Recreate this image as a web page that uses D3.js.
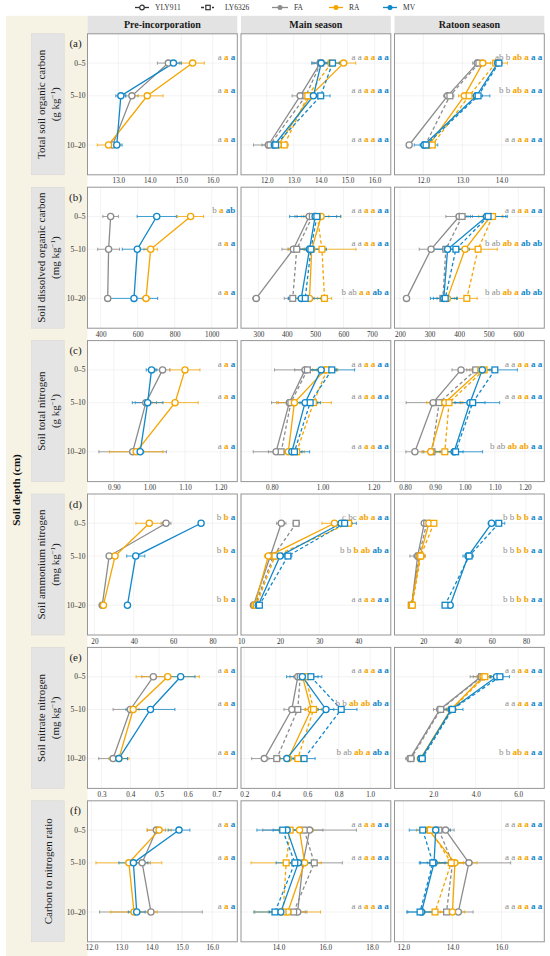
<!DOCTYPE html>
<html><head><meta charset="utf-8">
<script src="https://cdn.jsdelivr.net/npm/d3@7"></script>
<style>body{margin:0;background:#fff}svg{display:block}</style>
</head><body><svg id="c" width="550" height="956"></svg>
<script>
// ---------------- data ----------------
const depthLabels=["0–5","5–10","10–20"];
const depthMid=[2.5,7.5,15];
const colTitles=["Pre-incorporation","Main season","Ratoon season"];
const rowTags=["(a)","(b)","(c)","(d)","(e)","(f)"];
const rowTitles=[["Total soil organic  carbon","(g kg","−1",")"],["Soil dissolved  organic carbon","(mg kg","−1",")"],["Soil total nitrogen","(g kg","−1",")"],["Soil ammonium nitrogen","(mg kg","−1",")"],["Soil nitrate nitrogen","(mg kg","−1",")"],["Carbon to nitrogen ratio"]];
const treatments=["FA","RA","MV"];
const varieties=["YLY911","LY6326"];
const a3=["a","a","a"], a6=["a","a","a","a","a","a"];
// series order: pre = FA, RA, MV (YLY911); main/ratoon = FA-YLY911, FA-LY6326, RA-YLY911, RA-LY6326, MV-YLY911, MV-LY6326
// values per series at depths 0-5, 5-10, 10-20 ; Se = half error bar ; Sig = letters per depth
const socPre=[[14.59,13.43,12.82],[15.36,13.92,12.69],[14.75,13.08,12.95]];
const socPreSe=[[0.35,0.2,0.1],[0.37,0.5,0.36],[0.25,0.16,0.17]];
const socPreSig=[a3,a3,a3];
const socMain=[[13.98,13.24,12.06],[14.0,13.45,12.12],[14.85,13.62,12.43],[14.39,13.52,12.65],[14.02,13.73,12.28],[14.44,14.0,12.33]];
const socMainSe=[[0.3,0.3,0.55],[0.25,0.25,0.3],[0.45,0.3,0.2],[0.3,0.25,0.15],[0.35,0.2,0.15],[0.25,0.35,0.15]];
const socMainSig=[a6,a6,a6];
const socRat=[[13.38,12.62,11.64],[13.42,12.68,12.05],[13.52,13.05,12.15],[13.85,13.17,12.23],[13.9,13.36,12.02],[13.93,13.4,12.07]];
const socRatSe=[[0.12,0.1,0.05],[0.1,0.1,0.1],[0.2,0.15,0.1],[0.3,0.15,0.08],[0.08,0.15,0.1],[0.08,0.3,0.3]];
const socRatSig=[["ab","b","ab","a","a","a"],["b","b","ab","a","a","a"],a6];

const docPre=[[454,443,438],[886,670,645],[703,598,580]];
const docPreSe=[[42,59,15],[70,36,20],[106,81,128]];
const docPreSig=[["b","a","ab"],a3,a3];
const docMain=[[479,423,292],[490,435,421],[521,488,480],[508,524,533],[500,480,451],[506,485,465]];
const docMainSe=[[50,40,12],[30,30,30],[70,30,40],[40,120,25],[90,60,45],[70,50,60]];
const docMainSig=[a6,a6,["b","ab","a","a","ab","a"]];
const docRat=[[400,305,222],[410,355,345],[506,420,360],[513,464,426],[493,361,348],[498,389,353]];
const docRatSe=[[45,40,8],[20,40,20],[40,40,25],[35,65,35],[70,50,45],[60,45,40]];
const docRatSig=[a6,["b","ab","ab","a","ab","ab"],["b","ab","ab","a","ab","ab"]];

const tnPre=[[1.037,0.99,0.953],[1.10,1.072,0.963],[1.006,0.995,0.974]];
const tnPreSe=[[0.02,0.03,0.095],[0.042,0.065,0.075],[0.015,0.043,0.01]];
const tnPreSig=[a3,a3,a3];
const tnMain=[[0.931,0.869,0.817],[0.94,0.875,0.837],[1.01,0.889,0.865],[1.017,0.964,0.898],[0.994,0.931,0.879],[1.036,0.951,0.889]];
const tnMainSe=[[0.12,0.07,0.09],[0.05,0.05,0.05],[0.05,0.07,0.04],[0.04,0.07,0.03],[0.06,0.05,0.04],[0.09,0.04,0.06]];
const tnMainSig=[a6,a6,a6];
const tnRat=[[0.987,0.894,0.833],[1.036,0.914,0.89],[1.053,0.933,0.886],[1.064,0.947,0.933],[1.058,1.017,0.964],[1.10,1.026,0.969]];
const tnRatSe=[[0.03,0.09,0.03],[0.03,0.03,0.03],[0.03,0.06,0.03],[0.03,0.04,0.03],[0.03,0.05,0.03],[0.075,0.09,0.09]];
const tnRatSig=[a6,a6,["b","ab","ab","ab","a","a"]];

const ammPre=[[56.4,27.5,24.0],[47.9,30.5,24.6],[74.2,41.0,36.8]];
const ammPreSe=[[2.5,1,1.5],[6.8,1,1.5],[1,4.6,1]];
const ammPreSig=[["b","b","a"],["b","b","a"],["b","b","a"]];
const ammMain=[[20.3,17.5,13.2],[24.1,18.3,13.6],[33.9,17.0,13.5],[37.5,18.7,13.9],[35.6,20.0,14.4],[36.5,22.0,14.7]];
const ammMainSe=[[1.2,1,0.8],[0.8,1,0.8],[3.2,1,0.8],[1,1,0.8],[1.5,1,0.8],[3,1,0.8]];
const ammMainSig=[["c","bc","ab","a","a","a"],["b","b","b","ab","ab","a"],a6];
const ammRat=[[20.6,16.7,13.3],[22.0,17.5,13.0],[23.3,18.1,13.2],[26.2,18.5,13.6],[59.9,46.2,35.7],[64.1,46.8,32.7]];
const ammRatSe=[[1.5,4.5,1.5],[1,3,1.5],[1,3,1.5],[1,2,1.5],[2,3,1.5],[3.5,2,1.5]];
const ammRatSig=[["b","b","b","b","a","a"],["b","b","b","b","a","a"],["b","b","b","b","a","a"]];

const nitPre=[[0.48,0.40,0.34],[0.53,0.41,0.36],[0.575,0.47,0.36]];
const nitPreSe=[[0.04,0.06,0.05],[0.11,0.02,0.035],[0.05,0.085,0.03]];
const nitPreSig=[a3,a3,a3];
const nitMain=[[0.54,0.502,0.327],[0.555,0.54,0.406],[0.57,0.625,0.48],[0.59,0.64,0.54],[0.569,0.719,0.47],[0.623,0.816,0.58]];
const nitMainSe=[[0.05,0.05,0.08],[0.04,0.05,0.05],[0.04,0.04,0.05],[0.05,0.05,0.05],[0.1,0.05,0.05],[0.07,0.1,0.07]];
const nitMainSig=[a6,["b","b","ab","ab","ab","a"],["b","ab","ab","a","ab","a"]];
const nitRat=[[4.24,2.31,0.90],[4.28,2.35,0.95],[4.35,2.83,1.40],[4.43,2.88,1.45],[4.98,2.85,1.42],[5.14,2.9,1.48]];
const nitRatSe=[[0.5,0.3,0.2],[0.4,0.2,0.15],[0.3,0.2,0.15],[0.3,0.2,0.15],[0.3,0.2,0.15],[0.45,0.5,0.15]];
const nitRatSig=[a6,a6,["b","b","ab","a","a","a"]];

const cnPre=[[14.15,13.68,13.97],[14.24,13.24,13.41],[14.9,13.39,13.5]];
const cnPreSe=[[0.3,0.27,1.7],[0.4,1.09,0.77],[0.36,0.48,0.28]];
const cnPreSig=[a3,a3,a3];
const cnMain=[[15.33,15.05,14.82],[15.1,15.53,14.65],[14.9,15.12,14.4],[14.5,14.33,14.2],[14.37,14.85,14.1],[14.18,14.7,13.85]];
const cnMainSe=[[2.0,0.5,0.4],[0.8,1.2,0.5],[0.6,0.5,1.4],[0.5,1.5,0.6],[0.6,0.6,0.5],[1.1,0.8,0.9]];
const cnMainSig=[a6,a6,a6];
const cnRat=[[13.72,14.67,14.24],[13.45,14.0,13.76],[13.04,14.1,14.0],[13.1,13.95,13.29],[13.32,13.25,12.74],[12.79,13.2,12.68]];
const cnRatSe=[[0.35,1.7,0.6],[0.4,0.8,0.5],[0.5,0.9,0.5],[0.4,0.5,0.4],[0.6,0.6,0.6],[0.55,0.5,0.5]];
const cnRatSig=[a6,a6,a6];

// tick labels per panel [pre, main, ratoon]
const socTicks=[[13,14,15,16],[12,13,14,15,16],[12,13,14]];
const docTicks=[[400,600,800,1000],[300,400,500,600,700],[200,300,400,500,600]];
const tnTicks=[[0.9,1.0,1.1,1.2],[0.8,1.0,1.2],[0.8,0.9,1.0,1.1,1.2]];
const ammTicks=[[20,40,60,80],[10,20,30,40],[20,40,60,80]];
const nitTicks=[[0.3,0.4,0.5,0.6,0.7],[0.2,0.4,0.6,0.8,1.0],[2,4,6]];
const cnTicks=[[12,13,14,15,16],[14,16,18],[12,14,16]];

// ---------------- layout ----------------
const rows=[
 {d:[[socPre,socPreSe,socPreSig],[socMain,socMainSe,socMainSig],[socRat,socRatSe,socRatSig]],ticks:socTicks,fmt:[".1f",".1f",".1f"],dom:[[12.02,16.78],[11.045,16.6],[11.265,15.09]]},
 {d:[[docPre,docPreSe,docPreSig],[docMain,docMainSe,docMainSig],[docRat,docRatSe,docRatSig]],ticks:docTicks,fmt:["d","d","d"],dom:[[329,1138],[238.5,766.8],[181.4,688]]},
 {d:[[tnPre,tnPreSe,tnPreSig],[tnMain,tnMainSe,tnMainSig],[tnRat,tnRatSe,tnRatSig]],ticks:tnTicks,fmt:[".2f",".2f",".2f"],dom:[[0.826,1.247],[0.679,1.268],[0.765,1.265]]},
 {d:[[ammPre,ammPreSe,ammPreSig],[ammMain,ammMainSe,ammMainSig],[ammRat,ammRatSe,ammRatSig]],ticks:ammTicks,fmt:["d","d","d"],dom:[[16.5,92.6],[10.0,48.3],[3.2,90.7]]},
 {d:[[nitPre,nitPreSe,nitPreSig],[nitMain,nitMainSe,nitMainSig],[nitRat,nitRatSe,nitRatSig]],ticks:nitTicks,fmt:[".1f",".1f",".1f"],dom:[[0.251,0.772],[0.179,1.131],[0.174,7.23]]},
 {d:[[cnPre,cnPreSe,cnPreSig],[cnMain,cnMainSe,cnMainSig],[cnRat,cnRatSe,cnRatSig]],ticks:cnTicks,fmt:[".1f",".1f",".1f"],dom:[[11.87,16.83],[12.40,18.8],[11.64,17.74]]}
];

const FONT="'Liberation Serif','Times New Roman',serif";
const colors={FA:"#8c8c8c",RA:"#f5a500",MV:"#1188c9"};
const svg=d3.select("#c").style("font-family",FONT);
const colX=[87.5,241,394.5], pW=149.8, pH=141, top0=33.8, step=153.4;
const y=d3.scaleLinear().domain([-1.97,19.55]).range([0,pH]);

// beige side band
svg.append("rect").attr("x",6).attr("y",15.8).attr("width",81.5).attr("height",956-15.8).attr("fill","#f7f3e4");

// legend
const legY=7.5;
const leg=svg.append("g");
const legItems=[
 {x1:135,x2:149,cx:142,tx:155,label:"YLY911",col:"#333",dash:null,shape:"c",fill:"#fff"},
 {x1:201,x2:214,cx:208,tx:225,label:"LY6326",col:"#333",dash:"3,2.5",shape:"s",fill:"#fff"},
 {x1:272,x2:288,cx:280,tx:294,label:"FA",col:colors.FA,dash:null,shape:"c",fill:colors.FA},
 {x1:329,x2:343,cx:336,tx:349,label:"RA",col:colors.RA,dash:null,shape:"c",fill:colors.RA},
 {x1:383,x2:397,cx:390,tx:403,label:"MV",col:colors.MV,dash:null,shape:"c",fill:colors.MV}];
legItems.forEach(it=>{
  leg.append("line").attr("x1",it.x1).attr("x2",it.x2).attr("y1",legY).attr("y2",legY)
    .attr("stroke",it.col).attr("stroke-width",1.3).attr("stroke-dasharray",it.dash);
  if(it.shape==="c") leg.append("circle").attr("cx",it.cx).attr("cy",legY).attr("r",it.fill==="#fff"?2.3:1.9)
    .attr("fill",it.fill).attr("stroke",it.col).attr("stroke-width",1.2);
  else leg.append("rect").attr("x",it.cx-2.2).attr("y",legY-2.2).attr("width",4.4).attr("height",4.4)
    .attr("fill",it.fill).attr("stroke",it.col).attr("stroke-width",1.2);
  leg.append("text").attr("x",it.tx).attr("y",legY+2.6).attr("font-size",7.5).attr("fill","#333").text(it.label);
});

// column headers
colTitles.forEach((t,c)=>{
  svg.append("rect").attr("x",colX[c]).attr("y",15.8).attr("width",pW).attr("height",18).attr("fill","#e3e3e3");
  svg.append("text").attr("x",colX[c]+pW/2).attr("y",28.3).attr("text-anchor","middle")
    .attr("font-size",10).attr("font-weight","bold").attr("fill","#1a1a1a").text(t);
});

// y title
svg.append("text").attr("transform","translate(20,490) rotate(-90)").attr("text-anchor","middle")
  .attr("font-size",11).attr("font-weight","bold").attr("fill","#111").text("Soil depth (cm)");

rows.forEach((row,r)=>{
  const top=top0+r*step;
  // row strip
  svg.append("rect").attr("x",31.6).attr("y",top).attr("width",32.6).attr("height",pH)
    .attr("fill","#e4e4e4").attr("stroke","#d2d2d2").attr("stroke-width",0.5);
  const tt=rowTitles[r];
  const st=svg.append("g").attr("transform",`translate(48,${top+pH/2}) rotate(-90)`);
  if(tt.length>1){
    st.append("text").attr("x",0).attr("y",-3.5).attr("text-anchor","middle").attr("font-size",11).attr("fill","#1a1a1a").text(tt[0]);
    const t2=st.append("text").attr("x",0).attr("y",11).attr("text-anchor","middle").attr("font-size",11).attr("fill","#1a1a1a");
    t2.append("tspan").text(tt[1]);
    t2.append("tspan").attr("dy",-4).attr("font-size",7).text(tt[2]);
    t2.append("tspan").attr("dy",4).text(tt[3]);
  } else {
    st.append("text").attr("x",0).attr("y",4).attr("text-anchor","middle").attr("font-size",11).attr("fill","#1a1a1a").text(tt[0]);
  }
  // tag
  svg.append("text").attr("x",75.5).attr("y",top+13.5).attr("text-anchor","middle").attr("font-size",11).attr("fill","#1a1a1a").text(rowTags[r]);
  // depth labels
  depthMid.forEach((dm,i)=>{
    svg.append("text").attr("x",85.5).attr("y",top+y(dm)+2.6).attr("text-anchor","end")
      .attr("font-size",7.5).attr("fill","#333").text(depthLabels[i]);
  });

  [0,1,2].forEach(c=>{
    const g=svg.append("g").attr("transform",`translate(${colX[c]},${top})`);
    const x=d3.scaleLinear().domain(row.dom[c]).range([0,pW]);
    g.append("rect").attr("width",pW).attr("height",pH).attr("fill","#fff");
    // grid
    g.selectAll(".gv").data(row.ticks[c]).join("line").attr("x1",d=>x(d)).attr("x2",d=>x(d))
      .attr("y1",0).attr("y2",pH).attr("stroke","#ebebeb").attr("stroke-width",0.6);
    g.selectAll(".gh").data(depthMid).join("line").attr("x1",0).attr("x2",pW)
      .attr("y1",d=>y(d)).attr("y2",d=>y(d)).attr("stroke","#ebebeb").attr("stroke-width",0.6);
    // axis
    const ax=g.append("g").attr("transform",`translate(0,${pH})`)
      .call(d3.axisBottom(x).tickValues(row.ticks[c]).tickFormat(d3.format(row.fmt[c])).tickSize(0).tickPadding(3.5));
    ax.select(".domain").remove();
    ax.selectAll("text").attr("font-size",7.2).attr("fill","#333").attr("font-family",FONT);

    const [vals,ses,sigs]=row.d[c];
    const series=vals.map((v,i)=>{
      const t=c===0?treatments[i]:treatments[Math.floor(i/2)];
      const vi=c===0?0:i%2;
      return {t,vi,pts:v.map((val,k)=>({val,se:ses[i][k],dep:depthMid[k]}))};
    });
    // error bars
    series.forEach(s=>{
      const col=colors[s.t];
      s.pts.forEach(p=>{
        const x1=x(p.val-p.se), x2=x(p.val+p.se), yy=y(p.dep);
        g.append("line").attr("x1",x1).attr("x2",x2).attr("y1",yy).attr("y2",yy).attr("stroke",col).attr("stroke-width",0.8);
        [x1,x2].forEach(xx=>g.append("line").attr("x1",xx).attr("x2",xx).attr("y1",yy-1.6).attr("y2",yy+1.6).attr("stroke",col).attr("stroke-width",0.8));
      });
    });
    // lines
    const line=d3.line().x(p=>x(p.val)).y(p=>y(p.dep));
    series.forEach(s=>{
      g.append("path").attr("d",line(s.pts)).attr("fill","none").attr("stroke",colors[s.t])
        .attr("stroke-width",1.3).attr("stroke-dasharray",s.vi===1?"3.5,2.5":null);
    });
    // points
    series.forEach(s=>{
      s.pts.forEach(p=>{
        if(s.vi===0) g.append("circle").attr("cx",x(p.val)).attr("cy",y(p.dep)).attr("r",3.1)
          .attr("fill","#fff").attr("stroke",colors[s.t]).attr("stroke-width",1.3);
        else g.append("rect").attr("x",x(p.val)-2.9).attr("y",y(p.dep)-2.9).attr("width",5.8).attr("height",5.8)
          .attr("fill","#fff").attr("stroke",colors[s.t]).attr("stroke-width",1.3);
      });
    });
    // significance letters
    sigs.forEach((labs,k)=>{
      const tx=g.append("text").attr("x",pW-2).attr("y",y(depthMid[k])-3.2).attr("text-anchor","end").attr("font-size",9);
      labs.forEach((l,i)=>{
        const t=c===0?treatments[i]:treatments[Math.floor(i/2)];
        tx.append("tspan").attr("fill",colors[t]).attr("font-weight",t==="FA"?"normal":"bold")
          .text((i>0?" ":"")+l);
      });
    });
    // border
    g.append("rect").attr("width",pW).attr("height",pH).attr("fill","none").attr("stroke","#959595").attr("stroke-width",1);
  });
});
</script></body></html>
